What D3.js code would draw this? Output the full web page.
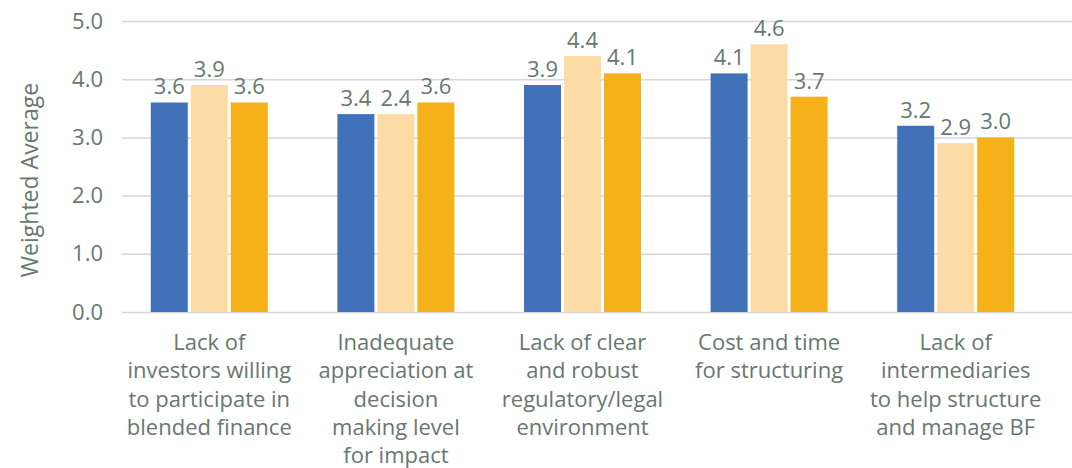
<!DOCTYPE html>
<html>
<head>
<meta charset="utf-8">
<script src="https://cdn.jsdelivr.net/npm/d3@7"></script>
<style>
  body { margin: 0; background: #fff; }
  text { font-family: "Open Sans", Lato, sans-serif; fill: #6a7670; }
</style>
</head>
<body>
<div id="chart"></div>
<script>
// Chart data
// ==============================
var categories = [
  ["Lack of", "investors willing", "to participate in", "blended finance"],
  ["Inadequate", "appreciation at", "decision", "making level", "for impact"],
  ["Lack of clear", "and robust", "regulatory/legal", "environment"],
  ["Cost and time", "for structuring"],
  ["Lack of", "intermediaries", "to help structure", "and manage BF"]
];
var seriesA = [3.6, 3.4, 3.9, 4.1, 3.2];
var seriesB = [3.9, 3.4, 4.4, 4.6, 2.9];
var seriesC = [3.6, 3.6, 4.1, 3.7, 3.0];
// labels as printed on the chart (one differs from its bar)
var labelsA = ["3.6", "3.4", "3.9", "4.1", "3.2"];
var labelsB = ["3.9", "2.4", "4.4", "4.6", "2.9"];
var labelsC = ["3.6", "3.6", "4.1", "3.7", "3.0"];
var yTicks = [0, 1, 2, 3, 4, 5];

var colors = ["#4171b8", "#fddba4", "#f5b01a"];

var svgWidth = 1072;
var svgHeight = 468;

var svg = d3.select("#chart")
  .append("svg")
  .attr("width", svgWidth)
  .attr("height", svgHeight);

// Scales
// ==============================
var xScale = d3.scaleBand()
  .domain(d3.range(categories.length))
  .range([116, 1049])
  .paddingInner(0)
  .paddingOuter(0);

var xInner = d3.scaleBand()
  .domain([0, 1, 2])
  .range([0, 117])
  .paddingInner(0.075);

var yScale = d3.scaleLinear()
  .domain([0, 5])
  .range([312, 21]);

// Gridlines and y axis
// ==============================
var yAxis = d3.axisLeft(yScale)
  .tickValues(yTicks)
  .tickFormat(d3.format(".1f"))
  .tickSize(-(1072 - 122))
  .tickPadding(19);

var yAxisGroup = svg.append("g")
  .attr("transform", "translate(122, 0)")
  .call(yAxis);

yAxisGroup.select(".domain").remove();
yAxisGroup.selectAll("line")
  .attr("stroke", "#d6d6d6")
  .attr("stroke-width", 1.5);
yAxisGroup.selectAll("text")
  .style("font-size", "22px")
  .style("font-family", "'Open Sans', sans-serif")
  .attr("fill", "#6a7670");

svg.append("text")
  .attr("transform", "rotate(-90)")
  .attr("x", -180)
  .attr("y", 38)
  .attr("text-anchor", "middle")
  .style("font-size", "23px")
  .text("Weighted Average");

// Bars
// ==============================
var allSeries = [
  { values: seriesA, labels: labelsA },
  { values: seriesB, labels: labelsB },
  { values: seriesC, labels: labelsC }
];

var groupWidth = xInner.range()[1];

var groups = svg.selectAll(".group")
  .data(categories)
  .enter()
  .append("g")
  .attr("class", "group")
  .attr("transform", (d, i) => `translate(${xScale(i) + xScale.bandwidth() / 2 - groupWidth / 2}, 0)`);

allSeries.forEach(function(s, si) {
  groups.append("rect")
    .attr("x", xInner(si))
    .attr("y", (d, i) => yScale(s.values[i]))
    .attr("width", xInner.bandwidth())
    .attr("height", (d, i) => yScale(0) - yScale(s.values[i]))
    .attr("fill", colors[si]);

  groups.append("text")
    .attr("x", xInner(si) + xInner.bandwidth() / 2)
    .attr("y", (d, i) => yScale(s.values[i]) - 8)
    .attr("text-anchor", "middle")
    .style("font-size", "22px")
    .text((d, i) => s.labels[i]);
});

// Category labels
// ==============================
var catLabels = svg.selectAll(".cat")
  .data(categories)
  .enter()
  .append("text")
  .attr("class", "cat")
  .attr("text-anchor", "middle")
  .style("font-size", "22px")
  .attr("transform", (d, i) => `translate(${xScale(i) + xScale.bandwidth() / 2}, 350)`);

catLabels.selectAll("tspan")
  .data(d => d)
  .enter()
  .append("tspan")
  .attr("x", 0)
  .attr("dy", (d, i) => i === 0 ? 0 : 28.3)
  .text(d => d);
</script>
</body>
</html>
